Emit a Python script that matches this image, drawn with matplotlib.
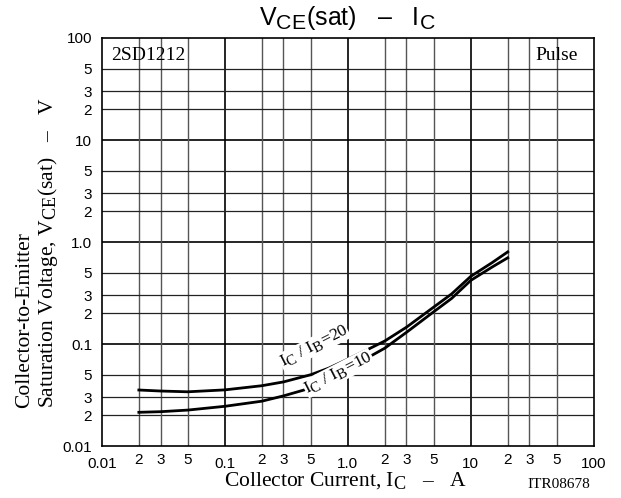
import numpy as np
import matplotlib.pyplot as plt
import matplotlib._mathtext as mt
from matplotlib.ticker import FixedLocator, FixedFormatter

# subscripts in the datasheet are nearly full size
mt.SHRINK_FACTOR = 0.85

plt.rcParams['font.family'] = ['Liberation Sans', 'DejaVu Sans']
plt.rcParams['mathtext.fontset'] = 'custom'
plt.rcParams['mathtext.rm'] = 'Liberation Serif'
plt.rcParams['mathtext.sf'] = 'Liberation Sans'

# Collector current (A)
ic = [0.02, 0.03, 0.05, 0.1, 0.2, 0.3, 0.5, 0.7, 1.0, 1.5, 2.0, 3.0, 5.0, 7.0, 10.0, 15.0, 20.0]
# VCE(sat) (V), IC/IB = 20
vce_20 = [0.0354, 0.0346, 0.034, 0.0355, 0.039, 0.0425, 0.050, 0.058, 0.071, 0.090, 0.107,
          0.146, 0.23, 0.31, 0.46, 0.63, 0.80]
# VCE(sat) (V), IC/IB = 10
vce_10 = [0.0214, 0.0217, 0.0225, 0.0245, 0.0275, 0.031, 0.037, 0.044, 0.056, 0.075, 0.091,
          0.130, 0.207, 0.28, 0.42, 0.57, 0.70]

decades = [0.01, 0.1, 1.0, 10, 100]
decade_labels = ['0.01', '0.1', '1.0', '10', '100']
minors = [m * d for d in decades[:-1] for m in (2, 3, 5)]
minor_labels = ['2', '3', '5'] * 4

fig = plt.figure(figsize=(6.21, 4.98), dpi=100)
ax = fig.add_axes([0.164, 0.1044, 0.792, 0.8193])
ax.set_xscale('log')
ax.set_yscale('log')
ax.set_xlim(0.01, 100)
ax.set_ylim(0.01, 100)

# grid
for d in decades[1:-1]:
    ax.axvline(d, color='black', lw=1.2, zorder=1)
    ax.axhline(d, color='black', lw=1.2, zorder=1)
for m in minors:
    ax.axvline(m, color='#555555', lw=1.0, zorder=1)
    ax.axhline(m, color='#222222', lw=0.9, zorder=1)

for axis in (ax.xaxis, ax.yaxis):
    axis.set_major_locator(FixedLocator(decades))
    axis.set_major_formatter(FixedFormatter(decade_labels))
    axis.set_minor_locator(FixedLocator(minors))
    axis.set_minor_formatter(FixedFormatter(minor_labels))
ax.tick_params(which='both', length=0, labelsize=11)
ax.tick_params(axis='x', which='major', pad=8)
ax.tick_params(axis='x', which='minor', pad=5)
ax.tick_params(axis='y', which='both', pad=7)
for s in ax.spines.values():
    s.set_linewidth(1.2)

ax.plot(ic, vce_20, color='black', lw=2.0, zorder=3)
ax.plot(ic, vce_10, color='black', lw=2.0, zorder=3)

bb = dict(facecolor='white', edgecolor='none', pad=0.3)
ax.text(0.53, 0.095, r'I$_{\rm C}$ / I$_{\rm B}$=20', family='Liberation Serif', fontsize=12.5,
        rotation=27, ha='center', va='center', bbox=bb, zorder=4)
ax.text(0.84, 0.052, r'I$_{\rm C}$ / I$_{\rm B}$=10', family='Liberation Serif', fontsize=12.5,
        rotation=27, ha='center', va='center', bbox=bb, zorder=4)

ax.text(0.0118, 68, '2SD1212', family='Liberation Serif', fontsize=14, va='center', ha='left')
ax.text(74, 68, 'Pulse', family='Liberation Serif', fontsize=14, va='center', ha='right')

fig.text(0.56, 0.964, r'V$\mathsf{_{CE}}$(sat)   –   I$\mathsf{_C}$', fontsize=18, ha='center', va='center')
fig.text(0.556, 0.034, r'Collector Current, I$_{\rm C}$   –   A', family='Liberation Serif',
         fontsize=15.5, ha='center', va='center')
fig.text(0.040, 0.181, 'Collector-to-Emitter', family='Liberation Serif', fontsize=15.5,
         rotation=90, ha='center', va='bottom')
fig.text(0.077, 0.181, r'Saturation Voltage, V$_{\rm CE}$(sat)   –   V', family='Liberation Serif',
         fontsize=15.5, rotation=90, ha='center', va='bottom')
fig.text(0.90, 0.028, 'ITR08678', family='Liberation Serif', fontsize=11, ha='center', va='center')

fig.savefig('out.png', dpi=100)
